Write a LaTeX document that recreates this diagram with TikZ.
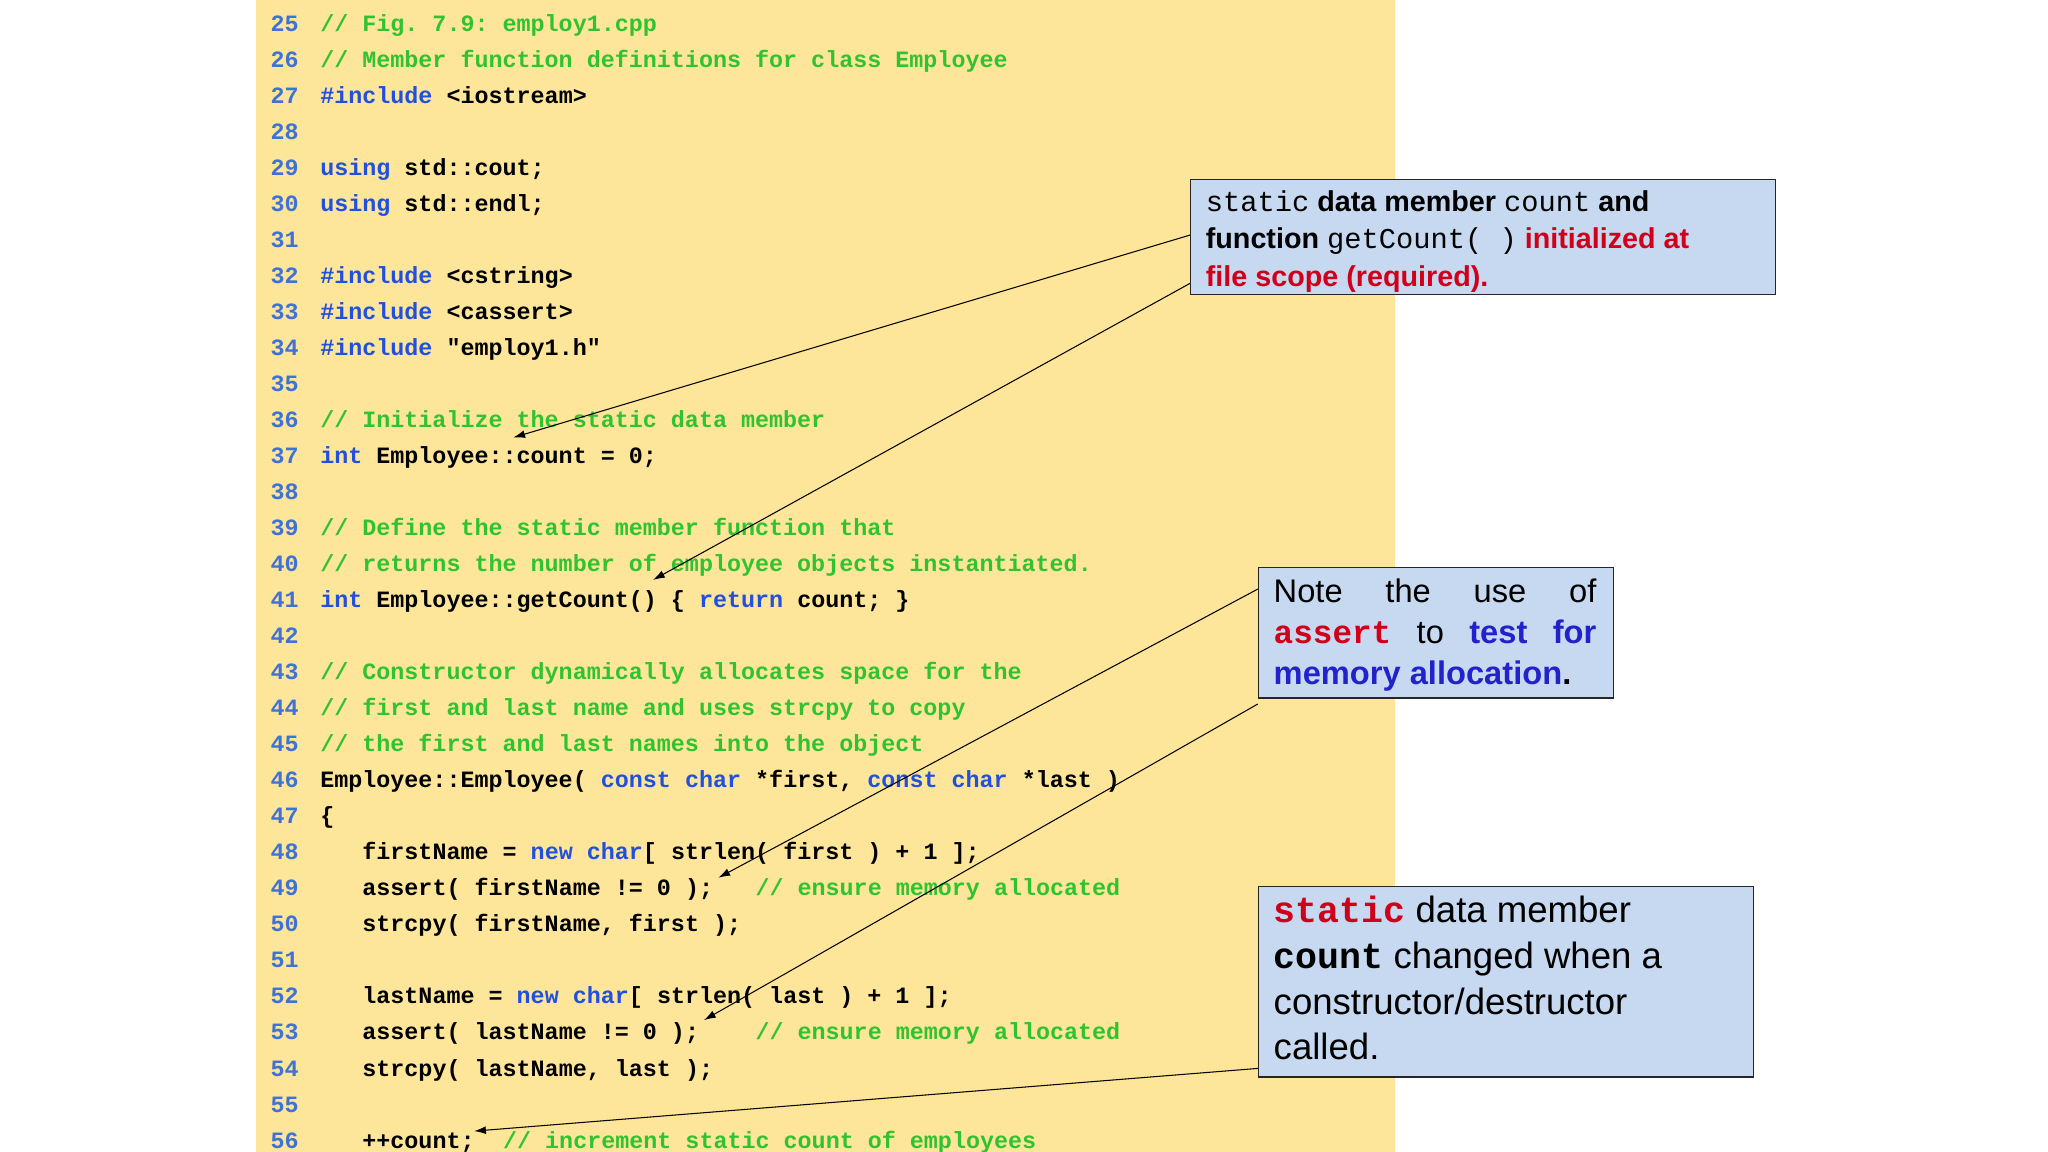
\documentclass[tikz,border=0pt]{standalone}
\usepackage{fontspec}
\setmainfont{Liberation Sans}
\setmonofont{Liberation Mono}
\usetikzlibrary{arrows.meta}
\definecolor{bgy}{HTML}{FDE59A}
\definecolor{lnc}{HTML}{3F72D6}
\definecolor{kw}{HTML}{2050E0}
\definecolor{cm}{HTML}{2FC42F}
\definecolor{boxc}{HTML}{C6D9F0}
\definecolor{rd}{HTML}{D0001A}
\definecolor{bl}{HTML}{2222CC}
\newcommand{\K}[1]{\textcolor{kw}{#1}}
\begin{document}
\begin{tikzpicture}[x=1pt,y=-1pt,
  code/.style={anchor=base west,inner sep=0pt,font=\fontsize{17.9}{20}\ttfamily\bfseries},
  cmt/.style={code,text=cm},
  num/.style={code,text=lnc},
  cbox/.style={draw=black!85,line width=1pt,fill=boxc,anchor=north west,inner sep=0pt},
  btxt/.style={anchor=north west,inner sep=0pt,align=left},
  arr/.style={-{Latex[length=9pt,width=6pt]},line width=0.8pt}]
\useasboundingbox (0,0) rectangle (1568,882);
\fill[bgy] (196,0) rectangle (1068,882);
% line numbers
\foreach \n [count=\i from 0] in {25,...,56}
  \node[num] (ln\n) at (207,{24+\i*27.58}) {\n};
\def\Y#1{{24+(#1-25)*27.58}}
\node[cmt] (c25) at (245,\Y{25}) {// Fig. 7.9: employ1.cpp};
\node[cmt] (c26) at (245,\Y{26}) {// Member function definitions for class Employee};
\node[code] (c27) at (245,\Y{27}) {\K{\#include} <iostream>};
\node[code] (c29) at (245,\Y{29}) {\K{using} std::cout;};
\node[code] (c30) at (245,\Y{30}) {\K{using} std::endl;};
\node[code] (c32) at (245,\Y{32}) {\K{\#include} <cstring>};
\node[code] (c33) at (245,\Y{33}) {\K{\#include} <cassert>};
\node[code] (c34) at (245,\Y{34}) {\K{\#include} "employ1.h"};
\node[cmt] (c36) at (245,\Y{36}) {// Initialize the static data member};
\node[code] (c37) at (245,\Y{37}) {\K{int} Employee::count = 0;};
\node[cmt] (c39) at (245,\Y{39}) {// Define the static member function that};
\node[cmt] (c40) at (245,\Y{40}) {// returns the number of employee objects instantiated.};
\node[code] (c41) at (245,\Y{41}) {\K{int} Employee::getCount() \{ \K{return} count; \}};
\node[cmt] (c43) at (245,\Y{43}) {// Constructor dynamically allocates space for the};
\node[cmt] (c44) at (245,\Y{44}) {// first and last name and uses strcpy to copy};
\node[cmt] (c45) at (245,\Y{45}) {// the first and last names into the object};
\node[code] (c46) at (245,\Y{46}) {Employee::Employee( \K{const} \K{char} *first, \K{const} \K{char} *last )};
\node[code] (c47) at (245,\Y{47}) {\{};
\node[code] (c48) at (277.25,\Y{48}) {firstName = \K{new} \K{char}[ strlen( first ) + 1 ];};
\node[code] (c49) at (277.25,\Y{49}) {assert( firstName != 0 );};
\node[cmt] (k49) at (578.25,\Y{49}) {// ensure memory allocated};
\node[code] (c50) at (277.25,\Y{50}) {strcpy( firstName, first );};
\node[code] (c52) at (277.25,\Y{52}) {lastName = \K{new} \K{char}[ strlen( last ) + 1 ];};
\node[code] (c53) at (277.25,\Y{53}) {assert( lastName != 0 );};
\node[cmt] (k53) at (578.25,\Y{53}) {// ensure memory allocated};
\node[code] (c54) at (277.25,\Y{54}) {strcpy( lastName, last );};
\node[code] (c56) at (277.25,\Y{56}) {++count;};
\node[cmt] (k56) at (385,\Y{56}) {// increment static count of employees};
% boxes
\node[cbox,minimum width=448pt,minimum height=88pt] (b1) at (911,137) {};
\node[btxt,font=\fontsize{22}{28.5}\selectfont\bfseries] (t1) at (923,146)
 {{\ttfamily\mdseries static} data member {\ttfamily\mdseries count} and\\
  function {\ttfamily\mdseries getCount( )} \textcolor{rd}{initialized at}\\
  \textcolor{rd}{file scope (required).}};
\node[cbox,minimum width=272pt,minimum height=100pt] (b2) at (963,434) {};
\node[btxt,align=justify,text width=247pt,font=\fontsize{25}{31.5}\selectfont] (t2) at (975,443)
 {Note the use of {\ttfamily\bfseries\textcolor{rd}{assert}} to \textcolor{bl}{\bfseries test for memory allocation}{\bfseries.}};
\node[cbox,minimum width=379pt,minimum height=146pt] (b3) at (963,678) {};
\node[btxt,font=\fontsize{28}{35}\selectfont] (t3) at (975,686)
 {{\ttfamily\bfseries\textcolor{rd}{static}} data member\\
  {\ttfamily\bfseries count} changed when a\\
  constructor/destructor\\
  called.};
% arrows
\coordinate (s1) at (911,180); \coordinate (e1) at (393,335);
\coordinate (s2) at (911,217); \coordinate (e2) at (500,444);
\coordinate (s3) at (963,451); \coordinate (e3) at (550,672);
\coordinate (s4) at (963,539); \coordinate (e4) at (539,781);
\coordinate (s5) at (963,818); \coordinate (e5) at (363,866);
\foreach \i in {1,...,5} \draw[arr] (s\i) -- (e\i);
\end{tikzpicture}
\end{document}
